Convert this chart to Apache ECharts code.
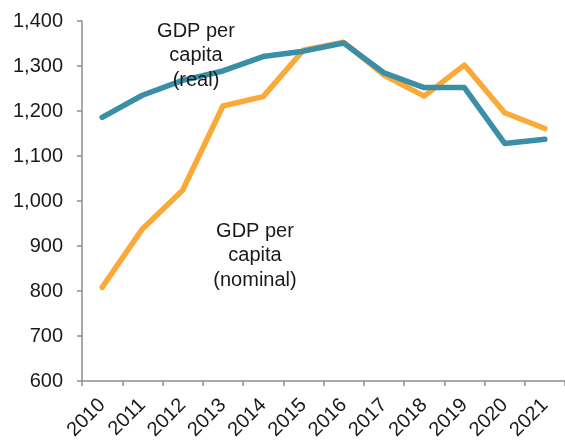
<!DOCTYPE html>
<html>
<head>
<meta charset="utf-8">
<script src="https://cdn.jsdelivr.net/npm/echarts@6/dist/echarts.min.js"></script>
<style>
  html, body { margin: 0; padding: 0; background: #fff; }
  #chart { width: 565px; height: 444px; }
</style>
</head>
<body>
<div id="chart"></div>
<script>
var years = ['2010', '2011', '2012', '2013', '2014', '2015', '2016', '2017', '2018', '2019', '2020', '2021'];
var gdpReal = [1186, 1235, 1268, 1289, 1321, 1333, 1351, 1285, 1252, 1252, 1128, 1137];
var gdpNominal = [808, 938, 1024, 1211, 1232, 1335, 1353, 1280, 1233, 1302, 1196, 1161];

var FONT = '"Liberation Sans", Arial, sans-serif';
var axisGray = '#8e8e8e';

var chart = echarts.init(document.getElementById('chart'), null, { renderer: 'canvas' });

var option = {
    backgroundColor: '#fff',
    animation: false,
    grid: { left: 82, right: -1, top: 21, bottom: 63, containLabel: false },
    xAxis: {
        type: 'category',
        data: years,
        boundaryGap: true,
        axisLine: { lineStyle: { color: axisGray, width: 1.5 } },
        axisTick: { show: true, alignWithLabel: false, length: 5, lineStyle: { color: axisGray, width: 1.5 } },
        axisLabel: {
            rotate: 45,
            margin: 21,
            interval: 0,
            fontSize: 20,
            fontFamily: FONT,
            color: '#1a1a1a'
        },
        splitLine: { show: false }
    },
    yAxis: {
        type: 'value',
        min: 600,
        max: 1400,
        interval: 100,
        axisLine: { show: true, lineStyle: { color: axisGray, width: 1.5 } },
        axisTick: { show: true, length: 5, lineStyle: { color: axisGray, width: 1.5 } },
        axisLabel: {
            margin: 19,
            fontSize: 20,
            fontFamily: FONT,
            color: '#1a1a1a',
            formatter: function (v) { return v.toLocaleString('en-US'); }
        },
        splitLine: { show: false }
    },
    series: [
        {
            name: 'GDP per capita (nominal)',
            type: 'line',
            data: gdpNominal,
            symbol: 'none',
            lineStyle: { color: '#fbaa3a', width: 5.5, cap: 'round', join: 'round' },
            z: 2
        },
        {
            name: 'GDP per capita (real)',
            type: 'line',
            data: gdpReal,
            symbol: 'none',
            lineStyle: { color: '#3a8ea5', width: 5.5, cap: 'round', join: 'round' },
            z: 3
        }
    ],
    graphic: [
        {
            type: 'text',
            x: 196,
            y: 19,
            z: 10,
            style: {
                text: 'GDP per\ncapita\n(real)',
                align: 'center',
                verticalAlign: 'top',
                font: '20px ' + FONT,
                lineHeight: 24.5,
                fill: '#1a1a1a'
            }
        },
        {
            type: 'text',
            x: 255,
            y: 219,
            z: 10,
            style: {
                text: 'GDP per\ncapita\n(nominal)',
                align: 'center',
                verticalAlign: 'top',
                font: '20px ' + FONT,
                lineHeight: 24.5,
                fill: '#1a1a1a'
            }
        }
    ]
};

chart.setOption(option);
</script>
</body>
</html>
